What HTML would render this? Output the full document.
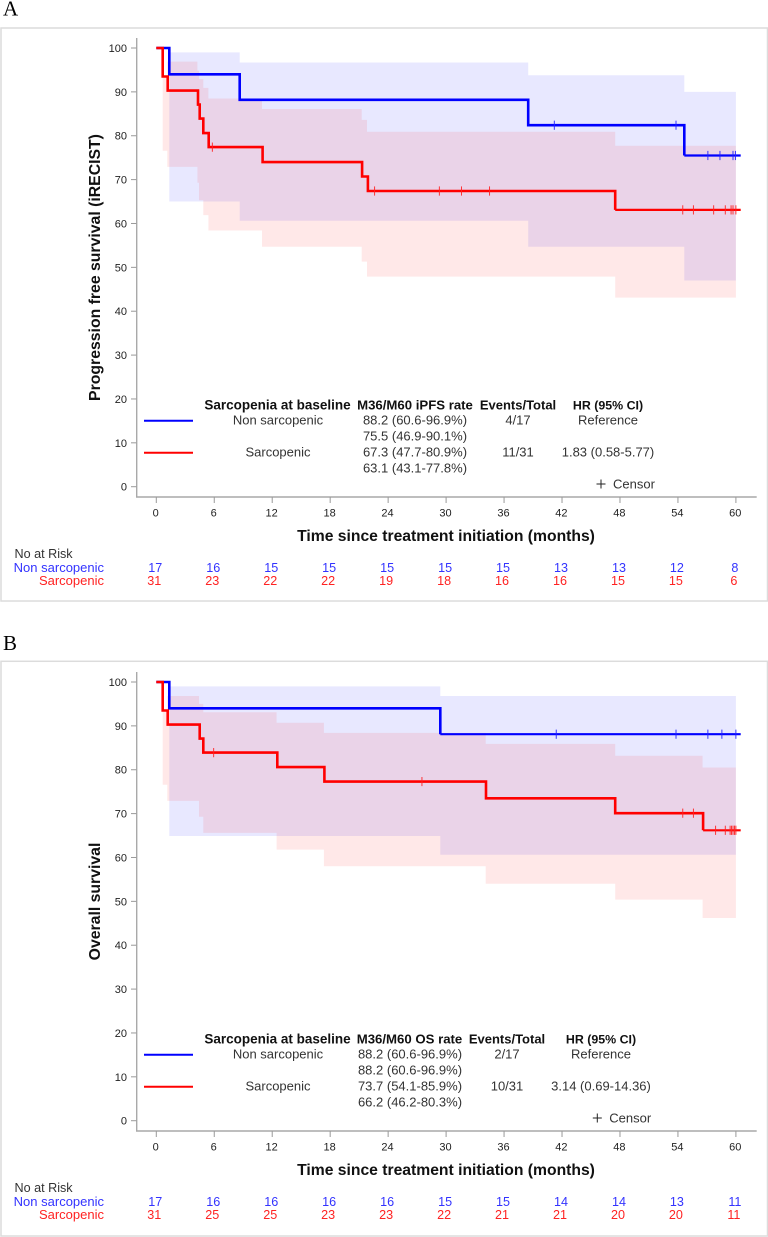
<!DOCTYPE html>
<html lang="en">
<head>
<meta charset="utf-8">
<title>Kaplan-Meier survival curves by sarcopenia status</title>
<style>
html,body{margin:0;padding:0;background:#fff;width:768px;height:1237px;overflow:hidden}
svg{display:block;filter:blur(0.3px)}
text{font-family:"Liberation Sans",Arial,sans-serif}
</style>
</head>
<body>
<svg id="figure" xmlns="http://www.w3.org/2000/svg" width="768" height="1237" viewBox="0 0 768 1237"></svg>
<script>
// Shared axes
const xTicks = [0, 6, 12, 18, 24, 30, 36, 42, 48, 54, 60];
const yTicks = [0, 10, 20, 30, 40, 50, 60, 70, 80, 90, 100];

// Panel A: progression free survival
const aBlueTimes = [0, 1.35, 8.63, 38.5, 54.66];
const aBlueSurv = [100, 94.0, 88.2, 82.4, 75.5];
const aBlueCensor = [41.2, 53.8, 57.1, 58.35, 59.7, 59.95];
const aBlueBandTimes = [1.35, 8.63, 38.5, 54.66];
const aBlueUpper = [99.0, 96.7, 93.8, 90.0];
const aBlueLower = [65.0, 60.6, 54.7, 47.0];
const aRedTimes = [0, 0.66, 1.18, 4.32, 4.49, 4.87, 5.42, 11.0, 21.3, 21.9, 47.5];
const aRedSurv = [100, 93.5, 90.3, 87.1, 83.9, 80.6, 77.4, 74.0, 70.7, 67.4, 63.1];
const aRedCensor = [5.8, 22.6, 29.3, 31.6, 34.5, 54.5, 55.6, 57.7, 58.9, 59.5, 59.7, 60];
const aRedBandTimes = [0.66, 1.14, 4.25, 4.42, 4.87, 5.39, 10.94, 21.26, 21.81, 47.5];
const aRedUpper = [93.5, 96.9, 94.8, 92.9, 90.9, 88.5, 86.1, 83.6, 80.9, 77.7];
const aRedLower = [76.6, 72.9, 69.3, 65.3, 61.9, 58.4, 54.7, 51.3, 47.9, 43.1];
const aRiskBlue = [17, 16, 15, 15, 15, 15, 15, 13, 13, 12, 8];
const aRiskRed = [31, 23, 22, 22, 19, 18, 16, 16, 15, 15, 6];

// Panel B: overall survival
const bBlueTimes = [0, 1.35, 29.4];
const bBlueSurv = [100, 94.0, 88.1];
const bBlueCensor = [41.4, 53.8, 57.1, 58.55, 60];
const bBlueBandTimes = [1.35, 29.4];
const bBlueUpper = [99.0, 96.8];
const bBlueLower = [64.9, 60.6];
const bRedTimes = [0, 0.66, 1.18, 4.49, 4.87, 12.53, 17.4, 34.13, 47.5, 56.6];
const bRedSurv = [100, 93.5, 90.3, 87.1, 83.9, 80.6, 77.3, 73.5, 70.1, 66.2];
const bRedCensor = [5.94, 27.5, 54.5, 55.6, 57.9, 58.9, 59.4, 59.55, 59.7, 59.85, 60];
const bRedBandTimes = [0.66, 1.14, 4.42, 4.87, 12.45, 17.35, 34.1, 47.5, 56.55];
const bRedUpper = [93.5, 96.8, 95.0, 93.1, 90.7, 88.4, 85.9, 83.2, 80.5];
const bRedLower = [76.6, 72.9, 69.3, 65.6, 61.8, 58.0, 54.0, 50.4, 46.2];
const bRiskBlue = [17, 16, 16, 16, 16, 15, 15, 14, 14, 13, 11];
const bRiskRed = [31, 25, 25, 23, 23, 22, 21, 21, 20, 20, 11];

const svgNS = 'http://www.w3.org/2000/svg';
const figure = document.getElementById('figure');

// Axis functions
function xAxis(t) { return 156.3 + 9.66 * t; }
function yAxis(v) { return 486.7 - 4.387 * v; }

function make(tag, parent, name, attrs, content) {
  const el = document.createElementNS(svgNS, tag);
  
  
  for (const k in attrs) el.setAttribute(k, attrs[k]);
  if (content !== undefined) el.textContent = content;
  parent.appendChild(el);
  return el;
}

function label(parent, name, x, y, str, size, fill, anchor, weight) {
  return make('text', parent, name, {
    x: x, y: y, 'font-size': size, fill: fill,
    'text-anchor': anchor || 'middle', 'font-weight': weight || 'normal'
  }, str);
}

function bandPath(times, values, reverse) {
  const pts = [];
  times.forEach(function (t, i) {
    const next = i + 1 < times.length ? times[i + 1] : 60;
    pts.push(xAxis(t).toFixed(1) + ' ' + yAxis(values[i]).toFixed(1));
    pts.push(xAxis(next).toFixed(1) + ' ' + yAxis(values[i]).toFixed(1));
  });
  if (reverse) pts.reverse();
  return pts;
}

function drawBand(g, name, times, upper, lower, fill) {
  const pts = bandPath(times, upper, false).concat(bandPath(times, lower, true));
  make('path', g, name, { d: 'M' + pts.join('L') + 'Z', fill: fill, 'fill-opacity': 0.09 });
}

function drawCurve(g, name, times, surv, color) {
  let d = 'M' + xAxis(times[0]).toFixed(1) + ' ' + yAxis(surv[0]).toFixed(1);
  times.forEach(function (t, i) {
    if (i > 0) {
      d += 'H' + xAxis(t).toFixed(1) + 'V' + yAxis(surv[i]).toFixed(1);
    }
  });
  make('path', g, name + '-main', { d: d, fill: 'none', stroke: color, 'stroke-width': 2.6, 'stroke-linejoin': 'miter' });
  const lastY = yAxis(surv[surv.length - 1]).toFixed(1);
  const startX = xAxis(times[times.length - 1]).toFixed(1);
  make('path', g, name + '-tail', { d: 'M' + startX + ' ' + lastY + 'H' + xAxis(60.5).toFixed(1), fill: 'none', stroke: color, 'stroke-width': 2.2 });
}

function stepValue(times, surv, t) {
  let v = surv[0];
  times.forEach(function (s, i) { if (t >= s) v = surv[i]; });
  return v;
}

function drawCensors(g, name, times, surv, censors, color) {
  censors.forEach(function (t) {
    const x = xAxis(t), y = yAxis(stepValue(times, surv, t));
    make('line', g, name, { x1: x, x2: x, y1: y - 4.6, y2: y + 4.6, stroke: color, 'stroke-width': 0.9 });
  });
}

function drawPanel(cfg) {
  const root = make('g', figure, cfg.id + '-panel', {});
  make('text', root, cfg.id + '-panel-label', {
    x: 3, y: cfg.labelY, 'font-size': 21, fill: '#000', style: 'font-family:"Liberation Serif",serif'
  }, cfg.letter);
  make('rect', root, cfg.id + '-panel-frame', {
    x: 1, y: cfg.frameTop, width: 766.5, height: cfg.frameBottom - cfg.frameTop,
    fill: '#fff', stroke: '#dcdcdc', 'stroke-width': 1.5
  });
  const g = make('g', root, cfg.id + '-chart', { transform: 'translate(0,' + cfg.dy + ')' });

  drawBand(g, cfg.id + '-ci-band-non-sarcopenic', cfg.blueBandTimes, cfg.blueUpper, cfg.blueLower, '#0000ff');
  drawBand(g, cfg.id + '-ci-band-sarcopenic', cfg.redBandTimes, cfg.redUpper, cfg.redLower, '#ff0000');

  // Axes
  make('line', g, 'y-axis-line', { x1: 136.7, x2: 136.7, y1: 38, y2: 497, stroke: '#a9a9a9', 'stroke-width': 1.4 });
  make('line', g, 'x-axis-line', { x1: 136, x2: 756.7, y1: 497, y2: 497, stroke: '#a9a9a9', 'stroke-width': 1.4 });
  yTicks.forEach(function (v) {
    make('line', g, 'y-tick', { x1: 131, x2: 136.5, y1: yAxis(v), y2: yAxis(v), stroke: '#999', 'stroke-width': 1 });
    label(g, 'y-tick-label', 127, yAxis(v) + 4, String(v), 11, '#222', 'end');
  });
  xTicks.forEach(function (t) {
    make('line', g, 'x-tick', { x1: xAxis(t), x2: xAxis(t), y1: 497, y2: 503, stroke: '#999', 'stroke-width': 1 });
    label(g, 'x-tick-label', xAxis(t) - 0.6, 516.7, String(t), 11, '#222');
  });

  // Axis titles
  make('text', g, 'y-axis-title', {
    x: 0, y: 0, 'font-size': 15.8, 'font-weight': 'bold', fill: '#111', 'text-anchor': 'middle',
    transform: 'translate(100,267.5) rotate(-90)'
  }, cfg.yTitle);
  label(g, 'x-axis-title', 446, 541, 'Time since treatment initiation (months)', 15.7, '#111', 'middle', 'bold');

  // Curves
  drawCurve(g, 'curve-non-sarcopenic', cfg.blueTimes, cfg.blueSurv, '#0000ff');
  drawCensors(g, 'censor-mark-non-sarcopenic', cfg.blueTimes, cfg.blueSurv, cfg.blueCensor, '#2222ff');
  drawCurve(g, 'curve-sarcopenic', cfg.redTimes, cfg.redSurv, '#ff0000');
  drawCensors(g, 'censor-mark-sarcopenic', cfg.redTimes, cfg.redSurv, cfg.redCensor, '#ff2222');

  // Legend table
  const t = cfg.table;
  const hdr = make('g', g, 'legend-table', {});
  label(hdr, 'legend-header-group', 277.5, 409.5, 'Sarcopenia at baseline', 13.5, '#111', 'middle', 'bold');
  label(hdr, 'legend-header-rate', t.rateHeadX, 409.5, t.rateHead, 13.2, '#111', 'middle', 'bold');
  label(hdr, 'legend-header-events', t.eventsX, 409.5, 'Events/Total', 13, '#111', 'middle', 'bold');
  label(hdr, 'legend-header-hr', t.hrX, 409.5, 'HR (95% CI)', 12.4, '#111', 'middle', 'bold');
  make('line', hdr, 'legend-line-non-sarcopenic', { x1: 144, x2: 193, y1: 420.7, y2: 420.7, stroke: '#0000ff', 'stroke-width': 2 });
  make('line', hdr, 'legend-line-sarcopenic', { x1: 144, x2: 193, y1: 452.7, y2: 452.7, stroke: '#ff0000', 'stroke-width': 2 });
  label(hdr, 'legend-group-non-sarcopenic', 278, 424.7, 'Non sarcopenic', 13, '#333');
  label(hdr, 'legend-group-sarcopenic', 278, 456.7, 'Sarcopenic', 13, '#333');
  const rateRows = [424.7, 440.7, 456.7, 472.7];
  t.rates.forEach(function (r, i) {
    label(hdr, 'legend-rate-value', t.rateX, rateRows[i], r, 13, '#333');
  });
  label(hdr, 'legend-events-non-sarcopenic', t.eventsX, 424.7, t.events[0], 13, '#333');
  label(hdr, 'legend-events-sarcopenic', t.eventsX, 456.7, t.events[1], 13, '#333');
  label(hdr, 'legend-hr-non-sarcopenic', t.hrX, 424.7, t.hr[0], 13, '#333');
  label(hdr, 'legend-hr-sarcopenic', t.hrX, 456.7, t.hr[1], 13, '#333');
  make('path', hdr, 'legend-censor-symbol', {
    d: 'M' + (t.plusX - 4.5) + ' 484H' + (t.plusX + 4.5) + 'M' + t.plusX + ' 479.5V488.5',
    stroke: '#222', 'stroke-width': 1, fill: 'none'
  });
  label(hdr, 'legend-censor-label', t.plusX + 12, 488.3, 'Censor', 13, '#333', 'start');

  // Numbers at risk
  label(g, 'risk-table-title', 14.5, 558, 'No at Risk', 12.6, '#333', 'start');
  label(g, 'risk-label-non-sarcopenic', 104, 572, 'Non sarcopenic', 13, '#3333ff', 'end');
  label(g, 'risk-label-sarcopenic', 104, 585, 'Sarcopenic', 13, '#ff2222', 'end');
  xTicks.forEach(function (tk, i) {
    label(g, 'risk-count-non-sarcopenic', xAxis(tk) - 1, 572, String(cfg.riskBlue[i]), 12.6, '#3333ff');
    label(g, 'risk-count-sarcopenic', xAxis(tk) - 2, 585, String(cfg.riskRed[i]), 12.6, '#ff2222');
  });
}

drawPanel({
  id: 'pfs', letter: 'A', labelY: 15.5, frameTop: 28, frameBottom: 601, dy: 0,
  yTitle: 'Progression free survival (iRECIST)',
  blueTimes: aBlueTimes, blueSurv: aBlueSurv, blueCensor: aBlueCensor,
  blueBandTimes: aBlueBandTimes, blueUpper: aBlueUpper, blueLower: aBlueLower,
  redTimes: aRedTimes, redSurv: aRedSurv, redCensor: aRedCensor,
  redBandTimes: aRedBandTimes, redUpper: aRedUpper, redLower: aRedLower,
  riskBlue: aRiskBlue, riskRed: aRiskRed,
  table: {
    rateHead: 'M36/M60 iPFS rate', rateHeadX: 415, rateX: 415, eventsX: 518, hrX: 608, plusX: 601,
    rates: ['88.2 (60.6-96.9%)', '75.5 (46.9-90.1%)', '67.3 (47.7-80.9%)', '63.1 (43.1-77.8%)'],
    events: ['4/17', '11/31'], hr: ['Reference', '1.83 (0.58-5.77)']
  }
});

drawPanel({
  id: 'os', letter: 'B', labelY: 650, frameTop: 661.3, frameBottom: 1236, dy: 634,
  yTitle: 'Overall survival',
  blueTimes: bBlueTimes, blueSurv: bBlueSurv, blueCensor: bBlueCensor,
  blueBandTimes: bBlueBandTimes, blueUpper: bBlueUpper, blueLower: bBlueLower,
  redTimes: bRedTimes, redSurv: bRedSurv, redCensor: bRedCensor,
  redBandTimes: bRedBandTimes, redUpper: bRedUpper, redLower: bRedLower,
  riskBlue: bRiskBlue, riskRed: bRiskRed,
  table: {
    rateHead: 'M36/M60 OS rate', rateHeadX: 409.5, rateX: 410, eventsX: 507, hrX: 601, plusX: 597.3,
    rates: ['88.2 (60.6-96.9%)', '88.2 (60.6-96.9%)', '73.7 (54.1-85.9%)', '66.2 (46.2-80.3%)'],
    events: ['2/17', '10/31'], hr: ['Reference', '3.14 (0.69-14.36)']
  }
});
</script>
</body>
</html>
